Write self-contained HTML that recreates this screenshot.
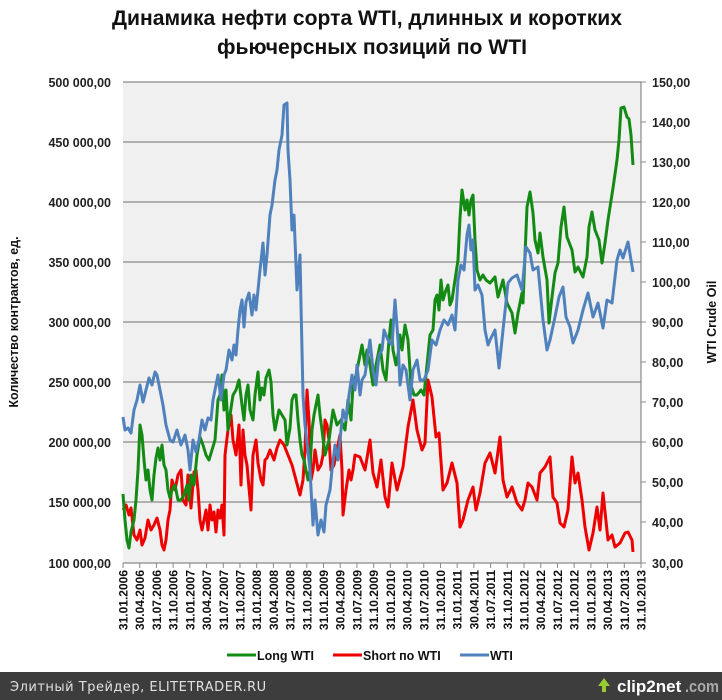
<!DOCTYPE html>
<html><head><meta charset="utf-8"><style>
html,body{margin:0;padding:0;background:#fff;}
svg{display:block;font-family:"Liberation Sans",sans-serif;}
</style></head><body>
<svg width="722" height="700" viewBox="0 0 722 700" xmlns="http://www.w3.org/2000/svg">
<rect width="722" height="700" fill="#fff"/>
<text x="367" y="25" font-size="21" font-weight="bold" text-anchor="middle" textLength="510" lengthAdjust="spacingAndGlyphs" fill="#111">Динамика нефти сорта WTI, длинных и коротких</text>
<text x="372" y="54" font-size="21" font-weight="bold" text-anchor="middle" textLength="310" lengthAdjust="spacingAndGlyphs" fill="#111">фьючерсных позиций по WTI</text>
<rect x="123" y="82" width="518" height="481" fill="#f0f0f0"/>
<g stroke="#8a8a8a" stroke-width="1.2">
<line x1="123" y1="82" x2="641" y2="82"/><line x1="123" y1="142" x2="641" y2="142"/>
<line x1="123" y1="202" x2="641" y2="202"/><line x1="123" y1="262" x2="641" y2="262"/>
<line x1="123" y1="322" x2="641" y2="322"/><line x1="123" y1="382" x2="641" y2="382"/>
<line x1="123" y1="442" x2="641" y2="442"/><line x1="123" y1="502" x2="641" y2="502"/>
<line x1="123" y1="563" x2="641" y2="563"/>
<line x1="641" y1="82" x2="641" y2="563"/>
</g>
<g stroke="#8a8a8a" stroke-width="1">
<line x1="641" y1="82" x2="646" y2="82"/><line x1="641" y1="122" x2="646" y2="122"/><line x1="641" y1="162" x2="646" y2="162"/><line x1="641" y1="202" x2="646" y2="202"/><line x1="641" y1="242" x2="646" y2="242"/><line x1="641" y1="282" x2="646" y2="282"/><line x1="641" y1="322" x2="646" y2="322"/><line x1="641" y1="362" x2="646" y2="362"/><line x1="641" y1="402" x2="646" y2="402"/><line x1="641" y1="442" x2="646" y2="442"/><line x1="641" y1="482" x2="646" y2="482"/><line x1="641" y1="522" x2="646" y2="522"/><line x1="641" y1="563" x2="646" y2="563"/>
</g>
<g font-size="12.5" font-weight="bold" fill="#222" text-anchor="end">
<text x="111" y="87">500 000,00</text><text x="111" y="147">450 000,00</text><text x="111" y="207">400 000,00</text><text x="111" y="267">350 000,00</text><text x="111" y="327">300 000,00</text><text x="111" y="387">250 000,00</text><text x="111" y="447">200 000,00</text><text x="111" y="507">150 000,00</text><text x="111" y="568">100 000,00</text>
</g>
<g font-size="12.5" font-weight="bold" fill="#222">
<text x="652" y="87">150,00</text><text x="652" y="127">140,00</text><text x="652" y="167">130,00</text><text x="652" y="207">120,00</text><text x="652" y="247">110,00</text><text x="652" y="287">100,00</text><text x="652" y="327">90,00</text><text x="652" y="367">80,00</text><text x="652" y="407">70,00</text><text x="652" y="447">60,00</text><text x="652" y="487">50,00</text><text x="652" y="527">40,00</text><text x="652" y="568">30,00</text>
</g>
<text transform="translate(18,322) rotate(-90)" font-size="12.5" font-weight="bold" text-anchor="middle" fill="#111">Количество контрактов, ед.</text>
<text transform="translate(716,322) rotate(-90)" font-size="12.5" font-weight="bold" text-anchor="middle" fill="#111">WTI Crude Oil</text>
<g id="xt" font-size="12" font-weight="bold" fill="#111" text-anchor="end"></g>
<g stroke="#8a8a8a" stroke-width="1" id="xticks"></g>

<polyline fill="none" stroke="#e00" stroke-width="3" stroke-linejoin="round" points="123,510 126,505 129,515 131,508 134,535 137,540 140,530 142,545 145,538 148,520 151,530 154,525 157,518 160,530 162,545 164,550 166,540 168,520 170,510 172,480 175,490 178,475 181,470 183,500 186,505 188,475 191,508 194,472 196,470 198,490 200,520 202,530 204,520 206,510 208,530 210,505 212,520 214,512 216,532 218,510 220,518 222,505 224,535 225,455 228,430 231,415 233,440 236,455 239,425 241,485 243,430 245,455 247,465 249,488 251,510 253,455 256,440 258,463 261,480 263,485 265,460 267,458 270,450 272,455 274,460 277,448 280,440 284,445 288,455 292,465 296,480 300,495 303,480 305,450 307,390 309,420 311,480 313,470 315,450 318,470 321,465 323,455 325,420 327,425 329,440 331,470 334,465 337,450 340,435 342,470 343,515 346,490 349,470 351,480 353,470 355,455 360,457 365,470 370,440 373,473 377,487 381,460 385,497 388,507 392,463 397,490 403,467 408,427 413,400 417,430 422,450 425,443 428,380 432,397 436,437 439,433 443,490 447,483 452,463 457,483 460,527 463,520 468,500 473,487 476,510 480,493 485,463 490,453 495,473 500,437 503,480 507,497 512,487 517,503 522,510 525,500 528,483 532,487 537,500 540,473 545,467 550,457 553,497 557,503 560,523 564,527 568,510 572,457 575,483 578,473 582,500 585,527 589,550 593,533 597,507 600,530 603,493 608,540 612,535 615,547 620,543 625,533 628,532 632,540 633,552"/>

<polyline fill="none" stroke="#138a13" stroke-width="3" stroke-linejoin="round" points="123,494 125,520 127,540 129,548 131,532 134,520 136,500 138,470 140,425 142,435 144,460 146,480 148,470 150,490 152,500 154,475 156,458 158,448 160,460 162,445 164,465 166,470 168,490 170,498 172,490 175,485 178,500 181,500 184,495 187,485 189,500 191,475 194,485 197,455 200,437 203,445 206,455 209,460 212,450 215,440 218,400 220,395 222,375 224,410 226,390 228,430 230,415 233,395 236,390 239,380 242,405 244,420 246,395 248,385 250,410 253,420 255,395 258,372 260,400 262,388 264,395 266,378 269,370 271,382 273,415 275,430 277,420 279,410 282,415 285,420 287,445 290,428 292,400 294,395 296,395 298,420 300,440 302,455 304,460 306,470 308,480 310,470 312,430 314,415 316,405 318,395 320,415 322,430 325,455 329,440 333,410 337,425 341,420 345,430 348,400 351,420 353,385 356,375 359,360 362,345 365,365 367,350 370,365 373,385 376,365 380,345 383,370 386,380 389,340 391,320 393,350 396,365 398,355 400,335 402,350 405,325 408,340 411,385 414,395 417,395 421,390 424,395 427,365 430,335 433,330 435,300 437,295 439,310 441,280 443,300 446,290 448,285 450,305 452,300 455,280 458,260 460,218 462,190 465,210 467,200 469,215 471,200 473,195 475,240 477,270 480,280 483,275 486,280 490,283 495,277 498,297 503,280 507,303 512,313 515,333 518,313 522,293 523,303 527,207 530,192 533,213 535,240 538,253 540,233 543,257 547,280 549,323 552,297 555,273 558,263 561,227 564,207 567,237 572,250 575,272 578,267 583,277 587,257 589,227 592,212 595,230 599,240 602,263 605,243 608,220 613,188 617,160 619,140 621,108 624,107 627,117 629,119 631,135 633,165"/>

<polyline fill="none" stroke="#4f81bd" stroke-width="3" stroke-linejoin="round" points="123,417 125,430 128,428 131,433 134,410 137,400 140,385 143,402 146,390 149,378 152,385 155,372 157,375 160,390 163,405 166,425 170,440 173,442 177,430 181,445 185,435 188,450 190,470 193,440 196,452 199,440 202,420 205,430 208,418 211,420 213,400 216,385 218,375 221,400 224,375 226,370 229,350 232,360 234,345 236,355 238,330 240,310 242,300 244,327 246,302 249,293 252,315 254,295 256,310 258,290 260,270 263,243 265,275 267,255 270,215 272,205 275,180 277,170 279,150 280,145 282,135 284,105 287,103 288,150 290,180 292,230 294,215 297,290 300,255 301,305 303,395 305,425 310,470 313,525 315,500 318,535 321,520 324,532 326,505 330,490 332,470 335,445 338,460 343,410 346,420 349,395 352,375 355,390 357,365 360,395 362,380 365,375 370,340 373,370 376,385 379,355 382,350 384,330 388,340 392,345 395,300 398,340 400,385 403,365 406,370 410,400 413,370 417,360 420,380 424,380 428,370 432,340 436,345 440,330 444,320 448,325 450,320 452,315 455,330 458,280 461,265 464,270 467,235 469,225 471,250 473,240 475,290 478,285 482,295 485,330 488,345 490,340 495,330 499,368 503,330 508,283 512,278 517,275 522,290 526,247 530,253 533,270 538,267 543,320 547,350 550,340 555,317 559,297 563,287 566,317 570,327 573,343 578,330 583,310 588,293 593,317 598,303 603,328 607,300 612,303 617,260 620,250 623,258 628,242 633,272"/>

<g font-size="12.5" font-weight="bold" fill="#111">
<line x1="227" y1="655" x2="256" y2="655" stroke="#138a13" stroke-width="3"/><text x="257" y="660">Long WTI</text>
<line x1="333" y1="655" x2="362" y2="655" stroke="#e00" stroke-width="3"/><text x="363" y="660">Short по WTI</text>
<line x1="460" y1="655" x2="489" y2="655" stroke="#4f81bd" stroke-width="3"/><text x="490" y="660">WTI</text>
</g>
<rect x="0" y="672" width="722" height="28" fill="#3d3d3d"/>
<text x="10" y="691" font-size="13" fill="#e0e0e0" font-family="DejaVu Sans, sans-serif" letter-spacing="0.5">Элитный Трейдер, ELITETRADER.RU</text>
<polygon points="598,686 604,678 610,686 606,686 606,692 602,692 602,686" fill="#9c3"/>
<text x="617" y="692" font-size="17" font-weight="bold" fill="#fff">clip2net</text>
<text x="685" y="692" font-size="17" font-weight="bold" fill="#aaa" textLength="34" lengthAdjust="spacingAndGlyphs">.com</text>
</svg>
<script>
var labels=[];var m=["31.01","30.04","31.07","31.10"];
for(var y=2006;y<=2013;y++){for(var i=0;i<4;i++){labels.push(m[i]+"."+y);}}
var g=document.getElementById("xt"),t=document.getElementById("xticks"),ns="http://www.w3.org/2000/svg";
for(var k=0;k<32;k++){var x=123+k*518/31;
var l=document.createElementNS(ns,"line");l.setAttribute("x1",x);l.setAttribute("x2",x);l.setAttribute("y1",563);l.setAttribute("y2",568);t.appendChild(l);
var e=document.createElementNS(ns,"text");e.setAttribute("transform","translate("+(x+4.5)+",570) rotate(-90)");e.textContent=labels[k];g.appendChild(e);}
</script>
</body></html>
